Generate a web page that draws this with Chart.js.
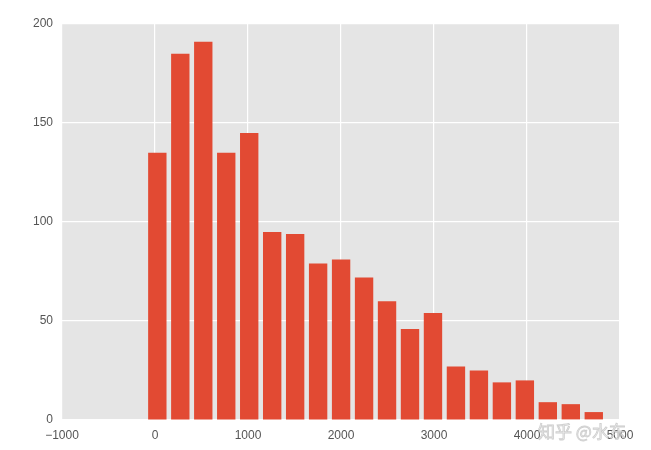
<!DOCTYPE html>
<html>
<head>
<meta charset="utf-8">
<script src="https://cdn.jsdelivr.net/npm/chart.js@4/dist/chart.umd.min.js"></script>
<style>
html,body{margin:0;padding:0;background:#fff;}
#wrap{width:651px;height:450px;position:relative;}
</style>
</head>
<body>
<div id="wrap"><canvas id="c" width="651" height="450"></canvas></div>
<script>
// bin centres (x) and counts (y)
const binCenters = [25, 272, 519, 766, 1013, 1260, 1507, 1754, 2001, 2248, 2495, 2742, 2989, 3236, 3483, 3730, 3977, 4224, 4471, 4718];
const counts = [135, 185, 191, 135, 145, 95, 94, 79, 81, 72, 60, 46, 54, 27, 25, 19, 20, 9, 8, 4];
const xTicks = [-1000, 0, 1000, 2000, 3000, 4000, 5000];
const yTicks = [0, 50, 100, 150, 200];
const watermark = '知乎 @水东';

const points = binCenters.map((x, i) => ({x: x, y: counts[i]}));

const bgPlugin = {
  id: 'bg',
  beforeDraw(chart) {
    const {ctx, chartArea: a} = chart;
    ctx.save();
    ctx.fillStyle = '#E5E5E5';
    ctx.fillRect(a.left, a.top, a.right - a.left, a.bottom - a.top);
    ctx.restore();
  },
  afterDraw(chart) {
    const ctx = chart.ctx;
    ctx.save();
    ctx.font = '17px "Noto Sans CJK SC"';
    ctx.fillStyle = 'rgba(240,240,240,0.85)';
    ctx.strokeStyle = 'rgba(170,170,170,0.55)';
    ctx.lineWidth = 0.8;
    ctx.textBaseline = 'alphabetic';
    ctx.fillText(watermark, 538, 438);
    ctx.strokeText(watermark, 538, 438);
    ctx.restore();
  }
};

new Chart(document.getElementById('c'), {
  type: 'bar',
  data: {
    datasets: [{
      data: points,
      backgroundColor: '#E24A33',
      borderWidth: 0,
      barPercentage: 0.8,
      categoryPercentage: 1.0
    }]
  },
  options: {
    responsive: false,
    animation: false,
    layout: {padding: {left: 0, right: 31, top: 24, bottom: 0}},
    plugins: {legend: {display: false}, tooltip: {enabled: false}},
    scales: {
      x: {
        type: 'linear',
        offset: false,
        min: -1000, max: 5000,
        afterBuildTicks(s) { s.ticks = xTicks.map(v => ({value: v})); },
        afterFit(s) { s.height = 30; },
        grid: {color: '#FFFFFF', lineWidth: 1.2, drawTicks: false, offset: false},
        border: {display: false},
        ticks: {
          color: '#555555',
          padding: 8,
          font: {family: '"Liberation Sans", Arial, sans-serif', size: 12},
          maxRotation: 0,
          callback: v => String(v).replace('-', '\u2212')
        }
      },
      y: {
        min: 0, max: 200,
        afterBuildTicks(s) { s.ticks = yTicks.map(v => ({value: v})); },
        afterFit(s) { s.width = 62; },
        grid: {color: '#FFFFFF', lineWidth: 1.2, drawTicks: false},
        border: {display: false},
        ticks: {
          color: '#555555',
          padding: 9,
          font: {family: '"Liberation Sans", Arial, sans-serif', size: 12}
        }
      }
    }
  },
  plugins: [bgPlugin]
});
</script>
</body>
</html>
